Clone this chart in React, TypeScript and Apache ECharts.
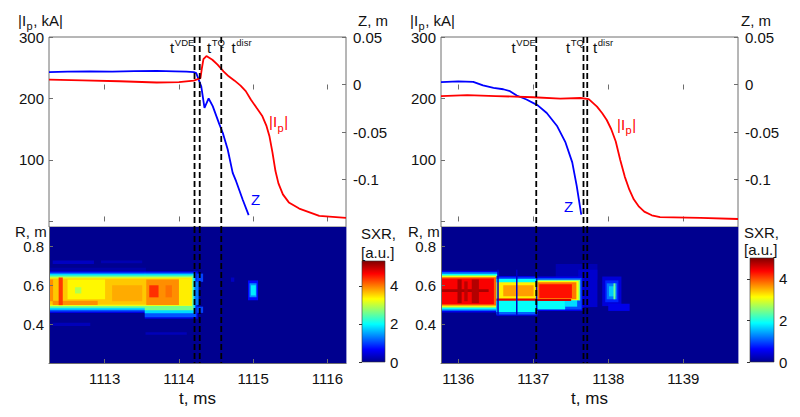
import React, { useEffect, useRef } from 'react';
import * as echarts from 'echarts';

const FONT = "'Liberation Sans', Arial, Helvetica, sans-serif";
const AX = '#6e6e6e';
const TXT = '#111111';

// ---- shared axis data ----
const ipMin = -9;
const ipMax = 300;
const ipTicks = [0, 100, 200, 300];
const ipLabels = [100, 200, 300];
const zMin = -0.15;
const zMax = 0.05;
const zTicks = [-0.1, -0.05, 0, 0.05];
const rMin = 0.2;
const rMax = 0.9;
const rTicks = [0.4, 0.6, 0.8];
const cbTicks = [0, 2, 4];
const jet = ['#00008f', '#0000ff', '#0080ff', '#00ffff', '#80ff80', '#ffff00', '#ff8000', '#ff0000', '#800000'];

// ---- left discharge ----
const tRangeL = [1112.25, 1116.25];
const tTicksL = [1113, 1114, 1115, 1116];
const eventsL = [1114.21, 1114.28, 1114.57]; // t^VDE, t^TQ, t^disr
const ipTimeL = [1112.25, 1112.7, 1113.2, 1113.7, 1114.0, 1114.2, 1114.29, 1114.31, 1114.33, 1114.37, 1114.45, 1114.52, 1114.6, 1114.67, 1114.75, 1114.83, 1114.9, 1114.97, 1115.05, 1115.12, 1115.18, 1115.22, 1115.26, 1115.3, 1115.34, 1115.4, 1115.48, 1115.62, 1115.89, 1116.25];
const ipL = [230.6, 229.5, 228, 226, 226.5, 229, 233, 250, 264, 269, 263, 255, 244, 236, 229, 221, 212, 198, 184, 172, 155, 138, 112, 82, 62, 44, 31, 21, 9, 6];
const zTimeL = [1112.25, 1112.5, 1112.8, 1113.1, 1113.4, 1113.7, 1113.95, 1114.1, 1114.2, 1114.233, 1114.3, 1114.344, 1114.4, 1114.455, 1114.545, 1114.59, 1114.657, 1114.724, 1114.77, 1114.858, 1114.939];
const zL = [0.013, 0.0135, 0.0138, 0.0136, 0.014, 0.0143, 0.0138, 0.0135, 0.013, 0.012, -0.0018, -0.0245, -0.0147, -0.0228, -0.042, -0.0508, -0.0684, -0.093, -0.1018, -0.121, -0.1375];
const sxrMaxL = 5.3;
// SXR emissivity patches: [t0, t1, R0, R1, value], later patches drawn over earlier ones
const sxrL = [
  [1112.25, 1116.25, 0.2, 0.9, 0],
  [1112.25, 1113.55, 0.668, 0.69, 0.15],
  [1112.3, 1112.85, 0.712, 0.728, 0.3],
  [1112.95, 1113.5, 0.715, 0.728, 0.2],
  [1112.3, 1112.8, 0.393, 0.407, 0.25],
  [1113.55, 1114.1, 0.347, 0.358, 0.25],
  [1112.25, 1113.54, 0.46, 0.672, 0.5],
  [1113.54, 1114.25, 0.43, 0.672, 0.5],
  [1112.25, 1113.54, 0.467, 0.666, 1.1],
  [1113.54, 1114.23, 0.438, 0.666, 1.1],
  [1112.25, 1113.54, 0.476, 0.659, 1.8],
  [1113.54, 1114.21, 0.458, 0.659, 1.8],
  [1112.25, 1113.54, 0.486, 0.65, 2.6],
  [1113.54, 1114.19, 0.474, 0.65, 2.6],
  [1112.25, 1114.17, 0.495, 0.642, 3.2],
  [1112.25, 1114.16, 0.502, 0.635, 3.6],
  [1112.5, 1113.0, 0.53, 0.63, 3.35],
  [1112.6, 1112.68, 0.56, 0.59, 2.9],
  [1112.3, 1112.9, 0.5, 0.52, 3.9],
  [1113.1, 1113.5, 0.52, 0.6, 3.75],
  [1113.56, 1114.0, 0.5, 0.63, 3.9],
  [1113.6, 1113.72, 0.54, 0.6, 4.4],
  [1113.82, 1113.9, 0.54, 0.6, 4.05],
  [1114.0, 1114.16, 0.5, 0.635, 3.4],
  [1112.38, 1112.43, 0.5, 0.64, 4.35],
  [1112.25, 1112.3, 0.52, 0.63, 3.9],
  [1114.21, 1114.26, 0.5, 0.62, 1.3],
  [1114.24, 1114.32, 0.62, 0.66, 1.0],
  [1114.24, 1114.32, 0.46, 0.49, 1.0],
  [1114.7, 1114.74, 0.62, 0.64, 0.3],
  [1114.93, 1115.06, 0.525, 0.625, 0.7],
  [1114.95, 1115.04, 0.54, 0.61, 1.4],
  [1114.97, 1115.03, 0.55, 0.6, 1.9],
];

// ---- right discharge ----
const tRangeR = [1135.77, 1139.73];
const tTicksR = [1136, 1137, 1138, 1139];
const eventsR = [1137.04, 1137.67, 1137.72]; // t^VDE, t^TQ, t^disr
const ipTimeR = [1135.77, 1136.12, 1136.5, 1137.0, 1137.36, 1137.63, 1137.74, 1137.85, 1137.92, 1137.98, 1138.04, 1138.1, 1138.16, 1138.22, 1138.28, 1138.34, 1138.41, 1138.48, 1138.58, 1138.69, 1139.23, 1139.73];
const ipR = [204, 205.5, 204, 202, 199.7, 200.8, 199, 186.7, 176, 165, 150, 130, 100, 73, 52, 36, 24, 16, 10, 7, 6, 4];
const zTimeR = [1135.77, 1136.0, 1136.2, 1136.33, 1136.47, 1136.6, 1136.69, 1136.78, 1136.91, 1137.06, 1137.18, 1137.32, 1137.43, 1137.52, 1137.58, 1137.64];
const zR = [0.0024, 0.0032, 0.0028, -0.001, -0.0035, -0.005, -0.007, -0.0116, -0.0158, -0.022, -0.03, -0.044, -0.061, -0.082, -0.107, -0.137];
const sxrMaxR = 5.0;
const sxrR = [
  [1135.77, 1139.73, 0.2, 0.9, 0],
  [1137.3, 1137.85, 0.63, 0.71, 0.2],
  [1137.6, 1137.85, 0.49, 0.68, 0.35],
  [1135.77, 1136.54, 0.462, 0.675, 0.5],
  [1135.77, 1136.53, 0.47, 0.668, 1.1],
  [1135.77, 1136.52, 0.478, 0.66, 1.9],
  [1135.77, 1136.51, 0.488, 0.65, 3.0],
  [1135.77, 1136.5, 0.498, 0.642, 3.9],
  [1135.77, 1136.47, 0.505, 0.635, 4.4],
  [1135.77, 1136.4, 0.568, 0.58, 4.8],
  [1135.99, 1136.04, 0.51, 0.63, 4.8],
  [1136.08, 1136.12, 0.52, 0.62, 4.7],
  [1136.18, 1136.27, 0.51, 0.63, 4.75],
  [1136.51, 1137.05, 0.445, 0.648, 0.5],
  [1136.51, 1137.05, 0.452, 0.64, 1.1],
  [1136.51, 1137.05, 0.465, 0.632, 1.9],
  [1136.51, 1137.05, 0.532, 0.615, 3.2],
  [1136.6, 1137.0, 0.545, 0.6, 3.6],
  [1136.51, 1137.05, 0.522, 0.532, 4.5],
  [1137.05, 1137.66, 0.47, 0.645, 0.5],
  [1137.05, 1137.64, 0.478, 0.638, 1.0],
  [1137.05, 1137.42, 0.478, 0.53, 1.9],
  [1137.42, 1137.58, 0.492, 0.53, 1.7],
  [1137.05, 1137.62, 0.524, 0.628, 2.4],
  [1137.05, 1137.6, 0.526, 0.622, 3.1],
  [1137.06, 1137.57, 0.53, 0.616, 3.8],
  [1137.08, 1137.51, 0.536, 0.605, 4.3],
  [1137.05, 1137.5, 0.521, 0.53, 4.6],
  [1136.52, 1136.535, 0.45, 0.68, 0.3],
  [1136.77, 1136.785, 0.45, 0.68, 0.3],
  [1137.035, 1137.05, 0.45, 0.68, 0.3],
  [1137.92, 1138.17, 0.495, 0.645, 0.4],
  [1138.0, 1138.28, 0.47, 0.505, 0.5],
  [1137.96, 1138.13, 0.515, 0.625, 0.8],
  [1137.98, 1138.11, 0.53, 0.61, 1.2],
  [1138.01, 1138.09, 0.545, 0.595, 1.6],
  [1138.07, 1138.09, 0.53, 0.61, 2.4],
];

const fmt = (v: number) => String(Math.round(v * 1000) / 1000);

const zip = (a: number[], b: number[]) => a.map((x, i) => [x, b[i]]);

function text(x: number, y: number, s: string, size: number, color = TXT, align = 'left') {
  return {
    type: 'text',
    x,
    y,
    silent: true,
    z: 50,
    style: {
      text: s,
      fontSize: size,
      fontFamily: FONT,
      fill: color,
      align,
      verticalAlign: 'middle',
      textAlign: align,
      textVerticalAlign: 'middle',
    },
  };
}

// |I_p ...| built from pieces so the subscript sits lower
function ipText(x: number, y: number, tail: string, color: string) {
  return [text(x, y, '|I', 15, color), text(x + 8.6, y + 6, 'p', 11, color), text(x + 15.2, y, tail, 15, color)];
}

function eventText(x: number, sup: string) {
  return [text(x, 47, 't', 15), text(x + 4.8, 42, sup, 9.5)];
}

const eventRender = (params: any, api: any) => {
  const cs = params.coordSys;
  const x = api.coord([api.value(0), api.value(1)])[0];
  return {
    type: 'line',
    shape: { x1: x, y1: cs.y, x2: x, y2: cs.y + cs.height },
    style: { stroke: '#000', lineWidth: 1.8, lineDash: [6, 3] },
  };
};

const heatRender = (params: any, api: any) => {
  const p0 = api.coord([api.value(0), api.value(3)]);
  const p1 = api.coord([api.value(1), api.value(2)]);
  return {
    type: 'rect',
    shape: { x: p0[0], y: p0[1], width: p1[0] - p0[0] + 0.4, height: p1[1] - p0[1] + 0.4 },
    style: { fill: api.visual('color') },
  };
};

const colorbarRender = (params: any) => {
  const cs = params.coordSys;
  return {
    type: 'rect',
    shape: { x: cs.x, y: cs.y, width: cs.width, height: cs.height },
    style: {
      fill: new echarts.graphic.LinearGradient(
        0, 1, 0, 0,
        jet.map((c, i) => ({ offset: i / (jet.length - 1), color: c }))
      ),
      stroke: '#333',
      lineWidth: 0.6,
    },
  };
};

interface Panel {
  left: number;
  tRange: number[];
  tTicks: number[];
  events: number[];
  ipTime: number[];
  ip: number[];
  zTime: number[];
  z: number[];
  sxr: number[][];
  sxrMax: number;
  cb: { left: number; top: number; width: number; height: number };
}

const panels: Panel[] = [
  {
    left: 49, tRange: tRangeL, tTicks: tTicksL, events: eventsL,
    ipTime: ipTimeL, ip: ipL, zTime: zTimeL, z: zL, sxr: sxrL, sxrMax: sxrMaxL,
    cb: { left: 362, top: 261, width: 23, height: 101 },
  },
  {
    left: 441, tRange: tRangeR, tTicks: tTicksR, events: eventsR,
    ipTime: ipTimeR, ip: ipR, zTime: zTimeR, z: zR, sxr: sxrR, sxrMax: sxrMaxR,
    cb: { left: 750, top: 258, width: 24, height: 104 },
  },
];

function buildOption() {
  const grid: any[] = [];
  const xAxis: any[] = [];
  const yAxis: any[] = [];
  const series: any[] = [];
  const visualMap: any[] = [];
  const label = { fontSize: 15, color: TXT, fontFamily: FONT, formatter: fmt };
  const tick = (values: number[], len = 5) => ({
    show: true, inside: true, length: len, customValues: values, lineStyle: { color: AX, width: 1 },
  });

  panels.forEach((p) => {
    const gTop = grid.length;
    grid.push({ left: p.left, top: 37, width: 297, height: 190, show: true, borderColor: AX, borderWidth: 1, backgroundColor: 'rgba(0,0,0,0)' });
    const gHeat = grid.length;
    grid.push({ left: p.left, top: 227, width: 297, height: 136 });
    const gCb = grid.length;
    grid.push({ left: p.cb.left, top: p.cb.top, width: p.cb.width, height: p.cb.height });

    const xTop = xAxis.length;
    xAxis.push({ type: 'value', gridIndex: gTop, min: p.tRange[0], max: p.tRange[1], position: 'bottom', axisLine: { show: false }, axisTick: tick(p.tTicks), axisLabel: { show: false }, splitLine: { show: false } });
    xAxis.push({ type: 'value', gridIndex: gTop, min: p.tRange[0], max: p.tRange[1], position: 'top', axisLine: { show: false }, axisTick: tick(p.tTicks), axisLabel: { show: false }, splitLine: { show: false } });
    const xHeat = xAxis.length;
    xAxis.push({
      type: 'value', gridIndex: gHeat, min: p.tRange[0], max: p.tRange[1], position: 'bottom', z: 10,
      axisLine: { show: true, lineStyle: { color: AX } }, axisTick: tick(p.tTicks, 4),
      axisLabel: { ...label, customValues: p.tTicks, margin: 8 }, splitLine: { show: false },
      name: 't, ms', nameLocation: 'middle', nameGap: 27,
      nameTextStyle: { fontSize: 17, color: TXT, fontFamily: FONT },
    });
    const xCb = xAxis.length;
    xAxis.push({ type: 'value', gridIndex: gCb, min: 0, max: 1, show: false });

    const yIp = yAxis.length;
    yAxis.push({ type: 'value', gridIndex: gTop, min: ipMin, max: ipMax, position: 'left', axisLine: { show: false }, axisTick: tick(ipTicks, 4), axisLabel: { ...label, customValues: ipLabels, margin: 5 }, splitLine: { show: false } });
    const yZ = yAxis.length;
    yAxis.push({ type: 'value', gridIndex: gTop, min: zMin, max: zMax, position: 'right', axisLine: { show: false }, axisTick: tick(zTicks, 4), axisLabel: { ...label, customValues: zTicks, margin: 7 }, splitLine: { show: false } });
    const yR = yAxis.length;
    yAxis.push({ type: 'value', gridIndex: gHeat, min: rMin, max: rMax, position: 'left', z: 10, axisLine: { show: true, lineStyle: { color: AX } }, axisTick: tick(rTicks, 4), axisLabel: { ...label, customValues: rTicks, margin: 5 }, splitLine: { show: false } });
    const yCb = yAxis.length;
    yAxis.push({ type: 'value', gridIndex: gCb, min: 0, max: p.sxrMax, position: 'right', axisLine: { show: false }, axisTick: { show: true, inside: true, length: 3, customValues: cbTicks, lineStyle: { color: '#333' } }, axisLabel: { ...label, customValues: cbTicks, margin: 5 }, splitLine: { show: false } });

    series.push({
      type: 'line', xAxisIndex: xTop, yAxisIndex: yZ, data: zip(p.zTime, p.z),
      symbol: 'none', lineStyle: { color: '#0000ff', width: 1.8 }, z: 3,
    });
    series.push({
      type: 'line', xAxisIndex: xTop, yAxisIndex: yIp, data: zip(p.ipTime, p.ip),
      symbol: 'none', lineStyle: { color: '#ff0000', width: 1.8 }, z: 3,
    });
    series.push({
      type: 'custom', xAxisIndex: xTop, yAxisIndex: yIp, data: p.events.map((t) => [t, 100]),
      renderItem: eventRender, encode: { x: 0, y: 1 }, z: 4, silent: true,
    });
    const heatIdx = series.length;
    series.push({
      type: 'custom', xAxisIndex: xHeat, yAxisIndex: yR, data: p.sxr,
      renderItem: heatRender, encode: { x: [0, 1], y: [2, 3] }, z: 2, silent: true,
    });
    series.push({
      type: 'custom', xAxisIndex: xHeat, yAxisIndex: yR, data: p.events.map((t) => [t, 0.5]),
      renderItem: eventRender, encode: { x: 0, y: 1 }, z: 4, silent: true,
    });
    series.push({
      type: 'custom', xAxisIndex: xCb, yAxisIndex: yCb, data: [[0.5, p.sxrMax / 2]],
      renderItem: colorbarRender, encode: { x: 0, y: 1 }, z: 2, silent: true,
    });
    visualMap.push({
      type: 'continuous', show: false, min: 0, max: p.sxrMax, dimension: 4,
      seriesIndex: heatIdx, inRange: { color: jet },
    });
  });

  const elements: any[] = [
    // left panel titles
    ...ipText(18, 20, ', kA|', TXT),
    text(388, 20, 'Z, m', 15, TXT, 'right'),
    text(15, 231, 'R, m', 15),
    text(361, 233, 'SXR,', 15),
    text(361, 252, '[a.u.]', 15),
    ...eventText(170, 'VDE'),
    ...eventText(207, 'TQ'),
    ...eventText(231.5, 'disr'),
    text(255.5, 199.5, 'Z', 15, '#0000ff', 'center'),
    ...ipText(269, 121.5, '|', '#ff0000'),
    // right panel titles
    ...ipText(410, 20, ', kA|', TXT),
    text(771, 20, 'Z, m', 15, TXT, 'right'),
    text(408, 231, 'R, m', 15),
    text(744, 232, 'SXR,', 15),
    text(744, 249, '[a.u.]', 15),
    ...eventText(511.5, 'VDE'),
    ...eventText(566, 'TQ'),
    ...eventText(593, 'disr'),
    text(568.5, 206.3, 'Z', 15, '#0000ff', 'center'),
    ...ipText(617, 124, '|', '#ff0000'),
  ];

  return {
    animation: false,
    backgroundColor: '#ffffff',
    textStyle: { fontFamily: FONT },
    grid,
    xAxis,
    yAxis,
    series,
    visualMap,
    graphic: { elements },
  };
}

export default function App() {
  const ref = useRef<HTMLDivElement>(null);
  useEffect(() => {
    if (!ref.current) return;
    const chart = echarts.init(ref.current, undefined, { renderer: 'svg' });
    chart.setOption(buildOption() as any);
    return () => chart.dispose();
  }, []);
  return <div ref={ref} style={{ position: 'absolute', left: 0, top: 0, width: 800, height: 417 }} />;
}
